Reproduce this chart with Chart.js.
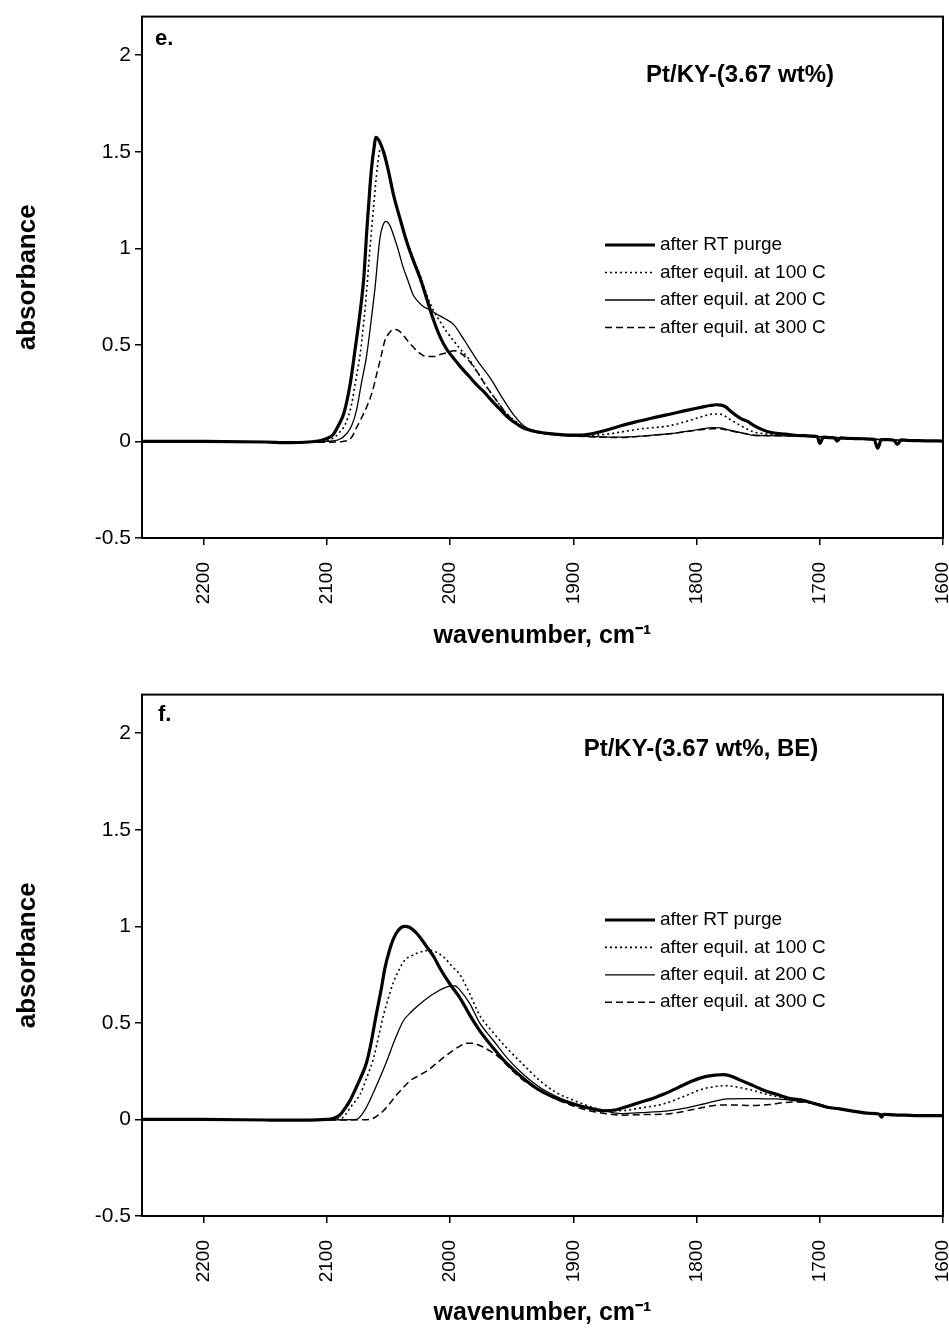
<!DOCTYPE html>
<html>
<head>
<meta charset="utf-8">
<title>Pt/KY IR spectra</title>
<script src="https://cdn.jsdelivr.net/npm/chart.js@4.4.1/dist/chart.umd.min.js"></script>
<style>
  body { margin: 0; background: #fff; }
  .panel { position: absolute; left: 0; width: 949px; }
</style>
</head>
<body>
<div class="panel" style="top:0; height:664px"><canvas id="panelE"></canvas></div>
<div class="panel" style="top:678px; height:651px"><canvas id="panelF"></canvas></div>
<script>
// Legend labels and axis ticks
const seriesLabels = ['after RT purge', 'after equil. at 100 C', 'after equil. at 200 C', 'after equil. at 300 C'];
const xTicks = [2200, 2100, 2000, 1900, 1800, 1700, 1600];
const yTicks = [-0.5, 0, 0.5, 1, 1.5, 2];

// Panel e: Pt/KY-(3.67 wt%)  (wavenumber, absorbance)
const eWnRT = [2250,2200,2150,2130,2115,2105,2100,2095,2090,2086,2081,2077,2073,2070,2067.5,2065,2063.5,2061.5,2060.4,2059,2057,2054,2050,2046,2040,2035,2030,2024,2019,2013.5,2008,2003,1997,1992,1985,1978,1973,1966,1960,1954,1948,1942,1935,1925,1915,1905,1895,1885,1875,1862,1850,1840,1830,1821,1810,1800,1794,1789,1784,1780,1776,1773,1768,1764,1759,1754,1748,1742,1735,1728,1720,1712,1706,1702,1700,1697,1692,1688,1686,1683,1678,1672,1665,1659,1656,1653,1650,1645,1640,1637,1634,1628,1620,1610,1600];
const eAbsRT = [0,0,-0.003,-0.006,-0.003,0.005,0.015,0.035,0.09,0.15,0.30,0.48,0.67,0.85,1.10,1.32,1.43,1.53,1.575,1.57,1.55,1.50,1.40,1.28,1.14,1.03,0.94,0.84,0.74,0.63,0.54,0.48,0.43,0.39,0.34,0.29,0.26,0.21,0.17,0.13,0.10,0.075,0.058,0.045,0.038,0.033,0.033,0.04,0.055,0.08,0.10,0.115,0.13,0.142,0.158,0.172,0.18,0.186,0.19,0.188,0.178,0.16,0.135,0.118,0.105,0.085,0.065,0.05,0.042,0.038,0.032,0.03,0.028,0.025,-0.01,0.022,0.02,0.018,0.002,0.018,0.016,0.015,0.014,0.012,0.011,-0.035,0.009,0.009,0.006,-0.015,0.008,0.005,0.004,0.003,0.002];
const eWn100 = [2250,2150,2120,2100,2094,2090,2085,2080,2076.5,2073,2070,2067.6,2065,2062,2059,2056.3,2054,2050,2046,2040,2035,2030,2024,2019,2013.6,2008,2003,1997,1992,1985,1978,1970,1962,1955,1948,1942,1935,1925,1915,1905,1890,1875,1862,1845,1821.5,1805,1795,1786,1780,1773,1765,1754,1745,1735,1720,1700,1680,1660,1640,1620,1600];
const eAbs100 = [0,-0.003,-0.005,0.005,0.02,0.045,0.09,0.19,0.32,0.45,0.62,0.79,1.0,1.22,1.42,1.52,1.51,1.41,1.28,1.14,1.04,0.95,0.855,0.76,0.68,0.62,0.57,0.52,0.48,0.43,0.36,0.28,0.21,0.15,0.11,0.08,0.06,0.045,0.037,0.033,0.032,0.036,0.048,0.065,0.082,0.11,0.13,0.142,0.14,0.115,0.085,0.05,0.04,0.036,0.032,0.025,0.018,0.012,0.007,0.004,0.002];
const eWn200 = [2250,2150,2120,2100,2090,2084,2080,2076,2072,2067.6,2064,2061,2057,2054.5,2052,2049,2046,2042,2038,2034,2030,2026,2022,2016,2011,2004,1997,1992,1985,1978,1967.6,1958,1948.7,1940,1930,1920,1905,1885,1862,1840,1821.5,1800,1786,1780,1773,1760,1754,1740,1720,1700,1680,1660,1640,1620,1600];
const eAbs200 = [0,-0.003,-0.005,0,0.01,0.04,0.08,0.16,0.30,0.45,0.63,0.79,1.05,1.12,1.14,1.12,1.07,0.99,0.90,0.83,0.76,0.725,0.70,0.68,0.66,0.635,0.605,0.56,0.49,0.42,0.33,0.23,0.14,0.08,0.05,0.037,0.03,0.025,0.022,0.03,0.04,0.06,0.072,0.07,0.058,0.04,0.032,0.03,0.028,0.024,0.018,0.012,0.007,0.004,0.002];
const eWn300 = [2250,2150,2100,2087,2080,2076,2072,2067.6,2063,2059.5,2056,2053,2049,2045.5,2042,2038,2033,2027,2023,2019,2013,2008,2002,1997,1992,1985,1978,1970,1962,1955,1948,1940,1930,1920,1905,1885,1862,1840,1821.5,1800,1786,1780,1773,1760,1754,1740,1720,1700,1680,1660,1640,1620,1600];
const eAbs300 = [0,-0.003,-0.004,0,0.02,0.07,0.12,0.18,0.26,0.35,0.44,0.52,0.565,0.58,0.575,0.55,0.51,0.47,0.45,0.44,0.44,0.45,0.46,0.47,0.46,0.42,0.36,0.28,0.21,0.15,0.105,0.07,0.048,0.037,0.03,0.024,0.02,0.03,0.04,0.058,0.066,0.065,0.055,0.04,0.032,0.03,0.028,0.024,0.018,0.012,0.007,0.004,0.002];

// Panel f: Pt/KY-(3.67 wt%, BE)
const fWnRT = [2250,2200,2150,2120,2100,2095,2090,2085,2081,2078,2073,2068,2064,2060,2056,2053,2049,2046,2042,2037,2033,2028,2024,2019,2013,2008,2000,1992,1984,1976,1965,1954,1940,1927,1914,1900,1887,1875,1865,1855,1845,1835,1827,1815,1803,1793,1784,1778,1773,1765,1754,1745,1735,1725,1713,1703,1694,1684,1672,1660,1652,1650,1648,1640,1630,1620,1610,1600];
const fAbsRT = [0,0,-0.003,-0.004,0,0.005,0.02,0.06,0.10,0.14,0.21,0.29,0.40,0.54,0.67,0.78,0.88,0.935,0.98,1.0,0.995,0.97,0.94,0.895,0.84,0.78,0.70,0.63,0.54,0.46,0.37,0.29,0.21,0.15,0.11,0.08,0.058,0.045,0.05,0.07,0.09,0.11,0.13,0.165,0.20,0.222,0.23,0.232,0.226,0.205,0.175,0.15,0.13,0.11,0.098,0.08,0.063,0.055,0.042,0.032,0.028,0.012,0.027,0.024,0.022,0.02,0.02,0.02];
const fWn100 = [2250,2150,2100,2090,2087,2080,2073,2068,2062,2058,2054,2050,2046,2041,2036.6,2032,2027,2021,2016,2011,2005.5,1998,1992,1984,1976,1965,1954,1940,1927,1914,1900,1887,1873,1862,1845,1827,1810,1795,1785,1776,1765,1754,1743,1732,1720,1710,1700,1690,1680,1660,1640,1620,1600];
const fAbs100 = [0,-0.003,-0.002,0.003,0.01,0.07,0.13,0.21,0.32,0.43,0.54,0.63,0.71,0.78,0.826,0.845,0.86,0.872,0.877,0.865,0.843,0.79,0.75,0.65,0.54,0.45,0.37,0.28,0.20,0.14,0.10,0.068,0.046,0.045,0.06,0.08,0.12,0.158,0.17,0.175,0.165,0.15,0.13,0.115,0.10,0.092,0.078,0.06,0.05,0.032,0.025,0.02,0.02];
const fWn200 = [2250,2150,2090,2076,2070,2065,2058,2051.5,2045,2038,2031,2024,2017,2011,2005,2000,1996,1992,1984,1976,1965,1954,1940,1927,1914,1900,1887,1873,1862,1845,1821.5,1808,1794.5,1785,1775.5,1760,1745,1735,1721,1710,1700,1690,1680,1660,1640,1620,1600];
const fAbs200 = [0,-0.003,-0.002,0,0.04,0.10,0.20,0.30,0.41,0.51,0.56,0.60,0.635,0.66,0.68,0.69,0.692,0.67,0.60,0.50,0.41,0.32,0.23,0.165,0.12,0.085,0.06,0.042,0.03,0.035,0.046,0.06,0.08,0.095,0.106,0.108,0.107,0.106,0.098,0.09,0.078,0.06,0.05,0.032,0.025,0.02,0.02];
const fWn300 = [2250,2150,2070,2065,2060,2054,2048,2043,2038,2032.5,2026,2019,2012,2005.5,1998,1992,1987,1982,1975,1967.6,1960,1949,1940,1927,1914,1900,1887,1873,1862,1845,1821.5,1800,1781,1770,1754,1740,1728,1721,1712,1700,1690,1680,1660,1640,1620,1600];
const fAbs300 = [0,-0.003,-0.002,0,0.015,0.045,0.09,0.13,0.165,0.20,0.225,0.25,0.285,0.32,0.355,0.38,0.395,0.395,0.38,0.355,0.32,0.25,0.20,0.15,0.105,0.07,0.045,0.03,0.022,0.025,0.03,0.055,0.075,0.075,0.072,0.078,0.088,0.09,0.088,0.078,0.06,0.05,0.032,0.025,0.02,0.02];

const FONT = '"Liberation Sans", Arial, Helvetica, sans-serif';
Chart.defaults.font.family = FONT;
Chart.defaults.color = '#000';

const lineWidths = [3.2, 1.6, 1.3, 1.5];
const lineDashes = [[], [2, 3], [], [7, 4]];

// box around the plot, panel letter, sample name and a hand placed legend
const decor = {
  id: 'decor',
  afterDraw(chart, args, o) {
    const {ctx, chartArea: a} = chart;
    ctx.save();
    ctx.strokeStyle = '#000';
    ctx.lineWidth = 2;
    ctx.strokeRect(a.left, a.top, a.right - a.left, a.bottom - a.top);

    ctx.fillStyle = '#000';
    ctx.textBaseline = 'middle';
    ctx.textAlign = 'left';
    ctx.font = 'bold 22px ' + FONT;
    ctx.fillText(o.letter, o.letterX, o.letterY);
    ctx.textAlign = 'center';
    ctx.font = 'bold 24px ' + FONT;
    ctx.fillText(o.title, o.titleX, o.titleY);

    ctx.textAlign = 'left';
    ctx.font = '19px ' + FONT;
    chart.data.datasets.forEach((ds, i) => {
      const y = o.legendY + i * o.legendGap;
      ctx.beginPath();
      ctx.lineWidth = ds.borderWidth;
      ctx.setLineDash(ds.borderDash);
      ctx.moveTo(o.legendX, y);
      ctx.lineTo(o.legendX + 50, y);
      ctx.stroke();
      ctx.setLineDash([]);
      ctx.fillText(ds.label, o.legendX + 55, y);
    });
    ctx.restore();
  }
};

function makePanel(id, wns, abss, o) {
  const datasets = seriesLabels.map((label, i) => ({
    label,
    data: wns[i].map((x, j) => ({x, y: abss[i][j]})),
    borderColor: '#000',
    borderWidth: lineWidths[i],
    borderDash: lineDashes[i],
    pointRadius: 0,
    cubicInterpolationMode: 'monotone',
    fill: false
  }));
  return new Chart(document.getElementById(id), {
    type: 'line',
    data: {datasets},
    plugins: [decor],
    options: {
      responsive: true,
      maintainAspectRatio: false,
      animation: false,
      devicePixelRatio: 1,
      layout: {padding: {top: 12, right: 6, left: 0, bottom: 0}},
      plugins: {
        legend: {display: false},
        tooltip: {enabled: false},
        decor: o
      },
      scales: {
        x: {
          type: 'linear',
          reverse: true,
          min: 1600,
          max: 2250,
          afterBuildTicks: s => { s.ticks = xTicks.map(v => ({value: v})); },
          afterFit: s => { s.height = o.xAxisHeight; s.paddingLeft = 0; s.paddingRight = 0; },
          ticks: {minRotation: 90, maxRotation: 90, padding: 17, font: {size: 19}, color: '#000',
                  callback: v => String(v)},
          grid: {drawOnChartArea: false, drawTicks: true, tickLength: 7, color: '#000', lineWidth: 1.5},
          border: {display: true, color: '#000', width: 2},
          title: {display: true, text: 'wavenumber, cm\u207B\u00B9', font: {size: 25, weight: 'bold'}, color: '#000',
                  padding: {top: 0, bottom: o.xTitlePad}}
        },
        y: {
          min: -0.5,
          max: 2.2,
          afterBuildTicks: s => { s.ticks = yTicks.map(v => ({value: v})); },
          afterFit: s => { s.width = 142; },
          ticks: {padding: 4, font: {size: 21}, color: '#000', callback: v => String(v)},
          grid: {drawOnChartArea: false, drawTicks: true, tickLength: 7, color: '#000', lineWidth: 1.5},
          border: {display: true, color: '#000', width: 2},
          title: {display: true, text: 'absorbance', font: {size: 26, weight: 'bold'}, color: '#000',
                  padding: {top: 12, bottom: 0}}
        }
      }
    }
  });
}

makePanel('panelE', [eWnRT, eWn100, eWn200, eWn300], [eAbsRT, eAbs100, eAbs200, eAbs300], {
  letter: 'e.', letterX: 155, letterY: 39,
  title: 'Pt/KY-(3.67 wt%)', titleX: 740, titleY: 75,
  legendX: 605, legendY: 245, legendGap: 27.5,
  xAxisHeight: 126, xTitlePad: 13
});

makePanel('panelF', [fWnRT, fWn100, fWn200, fWn300], [fAbsRT, fAbs100, fAbs200, fAbs300], {
  letter: 'f.', letterX: 158, letterY: 37,
  title: 'Pt/KY-(3.67 wt%, BE)', titleX: 701, titleY: 71,
  legendX: 605, legendY: 242, legendGap: 27.4,
  xAxisHeight: 113, xTitlePad: 1
});
</script>
</body>
</html>
